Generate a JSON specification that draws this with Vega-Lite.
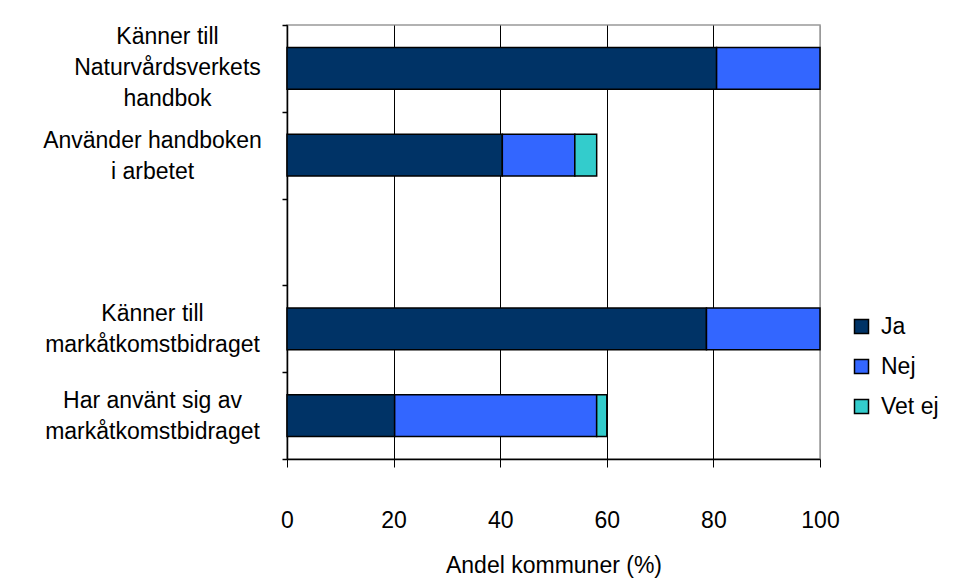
{
  "$schema": "https://vega.github.io/schema/vega-lite/v6.json",
  "width": 533,
  "height": 434,
  "autosize": {"type": "none"},
  "padding": {"left": 287, "top": 25, "right": 138, "bottom": 121},
  "background": "white",
  "config": {
    "font": "Liberation Sans",
    "view": {"stroke": "#999999", "strokeWidth": 1.5}
  },
  "data": {
    "values": [
      {"cat": "a", "svar": "Ja", "v": 80.6, "o": 1},
      {"cat": "a", "svar": "Nej", "v": 19.4, "o": 2},
      {"cat": "b", "svar": "Ja", "v": 40.4, "o": 1},
      {"cat": "b", "svar": "Nej", "v": 13.6, "o": 2},
      {"cat": "b", "svar": "Vet ej", "v": 4.1, "o": 3},
      {"cat": "d", "svar": "Ja", "v": 78.7, "o": 1},
      {"cat": "d", "svar": "Nej", "v": 21.3, "o": 2},
      {"cat": "e", "svar": "Ja", "v": 20.2, "o": 1},
      {"cat": "e", "svar": "Nej", "v": 37.9, "o": 2},
      {"cat": "e", "svar": "Vet ej", "v": 1.9, "o": 3}
    ]
  },
  "mark": {"type": "bar", "stroke": "black", "strokeWidth": 1.5, "height": {"band": 0.48}},
  "encoding": {
    "y": {
      "field": "cat",
      "type": "nominal",
      "scale": {"domain": ["a", "b", "c", "d", "e"], "paddingInner": 0, "paddingOuter": 0},
      "axis": {
        "title": null,
        "grid": false,
        "domainColor": "black",
        "domainWidth": 1.5,
        "tickColor": "black",
        "tickWidth": 1.5,
        "tickSize": 5,
        "tickBand": "extent",
        "labelAlign": "center",
        "labelBaseline": "middle",
        "labelPadding": {"condition": {"test": "datum.value == 'a'", "value": 115}, "value": 130},
        "labelOffset": {"condition": {"test": "datum.value == 'a'", "value": -32}, "value": -15},
        "labelFontSize": 23,
        "labelColor": "black",
        "labelLineHeight": 31,
        "labelLimit": 400,
        "labelOverlap": false,
        "labelExpr": "datum.value == 'a' ? ['Känner till','Naturvårdsverkets','handbok'] : datum.value == 'b' ? ['Använder handboken','i arbetet'] : datum.value == 'd' ? ['Känner till','markåtkomstbidraget'] : datum.value == 'e' ? ['Har använt sig av','markåtkomstbidraget'] : ''"
      }
    },
    "x": {
      "field": "v",
      "type": "quantitative",
      "stack": "zero",
      "scale": {"domain": [0, 100], "nice": false},
      "axis": {
        "values": [0, 20, 40, 60, 80, 100],
        "title": "Andel kommuner (%)",
        "titleFontSize": 23,
        "titleFontWeight": "normal",
        "titleColor": "black",
        "titlePadding": 22,
        "grid": true,
        "gridColor": {"condition": {"test": "datum.value == 100", "value": "#999999"}, "value": "black"},
        "gridWidth": 1,
        "domainColor": "black",
        "domainWidth": 1.5,
        "tickColor": "black",
        "tickSize": 8,
        "labelFontSize": 23,
        "labelColor": "black",
        "labelFlush": false,
        "labelPadding": 42
      }
    },
    "color": {
      "field": "svar",
      "type": "nominal",
      "scale": {"domain": ["Ja", "Nej", "Vet ej"], "range": ["#003366", "#3366FF", "#33CCCC"]},
      "legend": {
        "title": null,
        "orient": "none",
        "legendX": 563,
        "legendY": 290,
        "symbolType": "square",
        "symbolSize": 196,
        "symbolStrokeColor": "black",
        "symbolStrokeWidth": 1.5,
        "labelFontSize": 23,
        "labelColor": "black",
        "labelOffset": 8,
        "rowPadding": 16
      }
    },
    "order": {"field": "o"}
  }
}
